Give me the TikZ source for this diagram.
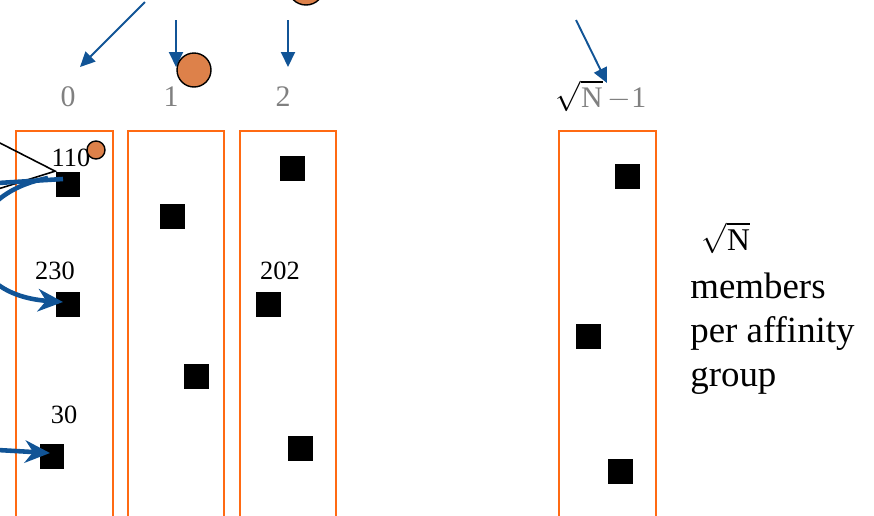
\documentclass[tikz,border=0pt]{standalone}
\usepackage{fontspec}
\setmainfont{Liberation Serif}
\usetikzlibrary{arrows.meta}
\definecolor{groupOrange}{RGB}{255,106,19}
\definecolor{msgOrange}{RGB}{221,129,74}
\definecolor{linkBlue}{RGB}{17,84,150}
\definecolor{labelGray}{RGB}{128,128,128}
\tikzset{
  groupbox/.style={draw=groupOrange, line width=1.1pt},
  member/.style={fill=black, minimum size=0.5cm, inner sep=0pt},
  msg/.style={circle, fill=msgOrange, draw=black, line width=0.8pt, inner sep=0pt},
  hop/.style={draw=linkBlue, line width=1.1pt, -{Triangle[length=0.3cm,width=0.28cm]}},
  lookup/.style={draw=linkBlue, line width=2.6pt, -{Stealth[length=0.5cm,width=0.45cm]}},
  glabel/.style={text=labelGray, font=\fontsize{17}{20}\selectfont},
  idlabel/.style={font=\fontsize{15}{18}\selectfont},
}
\begin{document}
\begin{tikzpicture}[x=0.02cm, y=-0.02cm]
  \useasboundingbox (0,0) rectangle (874,515);
  \clip (0,0) rectangle (874,515);
  % affinity groups
  \draw[groupbox] (16,131) rectangle (113,540);
  \draw[groupbox] (128,131) rectangle (224,540);
  \draw[groupbox] (240,131) rectangle (336,540);
  \draw[groupbox] (559,131) rectangle (656,540);
  % group numbers
  \node[glabel] (g0) at (68,97) {0};
  \node[glabel] (g1) at (171,97) {1};
  \node[glabel] (g2) at (283,97) {2};
  \node[glabel, text=black] (glast) at (601,96) {$\sqrt{\mbox{\color{labelGray}N}}$\,{\color{labelGray}$-$1}};
  % hashing arrows
  \coordinate (src0) at (145,2);   \coordinate (tip0) at (80,67);
  \coordinate (src1) at (176,20);  \coordinate (tip1) at (176,67);
  \coordinate (src2) at (288,20);  \coordinate (tip2) at (288,67);
  \coordinate (srcl) at (576,20);  \coordinate (tipl) at (607,83);
  \draw[hop] (src0) -- (tip0);
  \draw[hop] (src1) -- (tip1);
  \draw[hop] (src2) -- (tip2);
  \draw[hop] (srcl) -- (tipl);
  \node[msg, minimum size=0.68cm] (obj1) at (194,70) {};
  \node[msg, minimum size=0.72cm] (obj2) at (306,-13) {};
  % members
  \node[member] (m110) at (68,184) {};
  \node[member] (m230) at (68,304) {};
  \node[member] (m30) at (52,456) {};
  \node[member] (a1) at (172,216) {};
  \node[member] (a2) at (196,376) {};
  \node[member] (b1) at (292,168) {};
  \node[member] (m202) at (268,304) {};
  \node[member] (b3) at (300,448) {};
  \node[member] (c1) at (627,176) {};
  \node[member] (c2) at (588,336) {};
  \node[member] (c3) at (620,471) {};
  % member ids
  \node[idlabel] (t110) at (71,158) {110};
  \node[idlabel] (t230) at (55,271) {230};
  \node[idlabel] (t202) at (280,271) {202};
  \node[idlabel] (t30) at (64,415) {30};
  \node[msg, minimum size=0.36cm] (obj3) at (96,150) {};
  % contacts
  \coordinate (in1) at (-2,183);
  \coordinate (in3) at (-2,450);
  \coordinate (ray1) at (-2,142);
  \coordinate (ray2) at (-2,189);
  \draw[black, line width=0.9pt] (ray1) -- (m110.north west) -- (ray2);
  \draw[lookup, -] (in1) -- ([shift={(-5,-5)}]m110.center);
  \draw[lookup] ([shift={(-20,-6)}]m110.center) .. controls (-48,196) and (-48,294) .. ([shift={(-5,-2)}]m230.center);
  \draw[lookup] (in3) -- ([shift={(-2,-3)}]m30.center);
  % side note
  \node[font=\fontsize{18}{22}\selectfont] (sqn) at (726,238) {$\sqrt{\mbox{N}}$};
  \node[anchor=north west, align=left, font=\fontsize{21}{25}\selectfont, inner sep=0pt] (note) at (690,273) {members\\per affinity\\group};
\end{tikzpicture}
\end{document}
